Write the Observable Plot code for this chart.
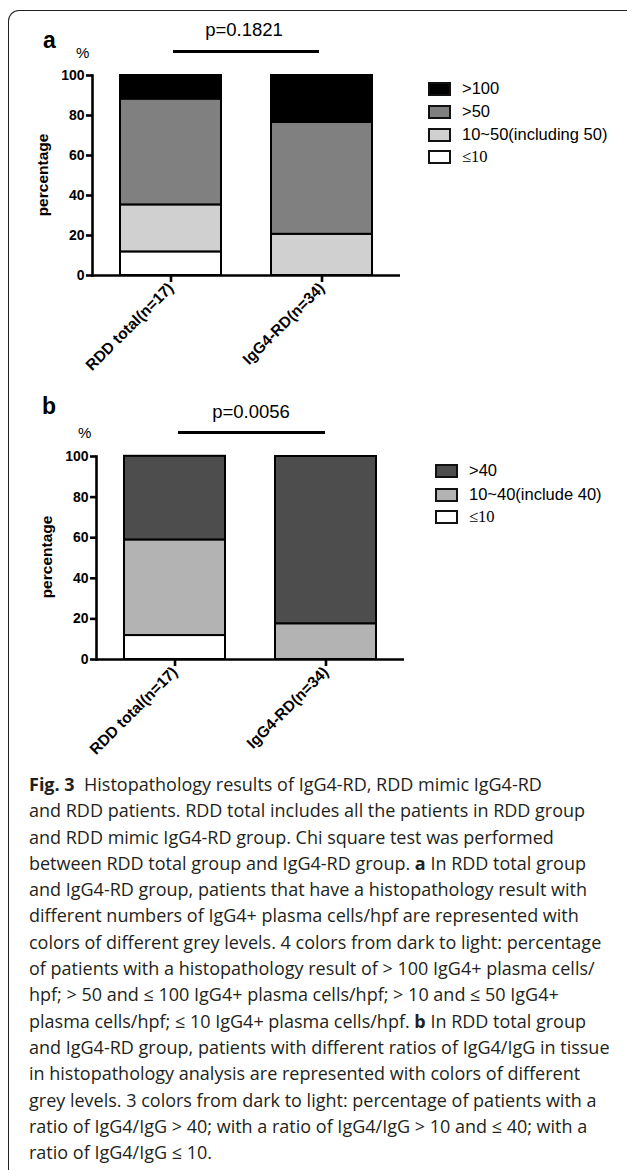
<!DOCTYPE html>
<html>
<head>
<meta charset="utf-8">
<script src="https://cdn.jsdelivr.net/npm/d3@7"></script>
<script src="https://cdn.jsdelivr.net/npm/@observablehq/plot@0.6"></script>
<style>
  html, body { margin: 0; padding: 0; background: #fff; }
  #root { position: relative; width: 627px; height: 1170px; overflow: hidden; background: #fff; font-family: "Liberation Sans", Arial, sans-serif; color: #000; }
  .abs { position: absolute; white-space: nowrap; }
  .frame { position: absolute; left: 8px; top: 10px; width: 640px; height: 1200px; border-top: 1.3px solid #222; border-left: 1.3px solid #222; border-top-left-radius: 11px; }
  .panel { font-weight: bold; font-size: 23px; }
  .pct { font-size: 15px; }
  .pval { font-size: 18.5px; }
  .pline { position: absolute; height: 2.5px; background: #000; }
  .ylab { position: absolute; font-weight: bold; font-size: 15.5px; transform: translate(-50%, -50%) rotate(-90deg); white-space: nowrap; }
  .leg { position: absolute; font-size: 16.5px; white-space: nowrap; }
  .sw { position: absolute; width: 19px; height: 10px; border: 2px solid #111; }
  .caption { position: absolute; left: 29px; top: 771px; font-family: "Open Sans", "Noto Sans", sans-serif; font-size: 18px; line-height: 26.3px; color: #231f20; }
  .caption div { white-space: nowrap; }
  .serif { font-family: "Liberation Serif", "Times New Roman", serif; }
</style>
</head>
<body>
<div id="root">
  <div class="frame"></div>
</div>
<script>
// ---- data ----
const categories = ["RDD total(n=17)", "IgG4-RD(n=34)"];

// panel a: IgG4+ plasma cells/hpf
const levelsA = ["≤10", "10~50(including 50)", ">50", ">100"];
const colorsA = ["#ffffff", "#d0d0d0", "#808080", "#000000"];
const rddA = [11.8, 23.5, 52.9, 11.8];
const igg4A = [0, 20.6, 55.9, 23.5];

// panel b: IgG4/IgG ratio
const levelsB = ["≤10", "10~40(include 40)", ">40"];
const colorsB = ["#ffffff", "#b3b3b3", "#4d4d4d"];
const rddB = [11.8, 47.1, 41.2];
const igg4B = [0, 17.6, 82.4];

const yTicks = [0, 20, 40, 60, 80, 100];
const pA = "p=0.1821";
const pB = "p=0.0056";

function rows(levels, series) {
  const out = [];
  levels.forEach((lev, i) => {
    series.forEach((vals, j) => out.push({cat: categories[j], level: lev, value: vals[i]}));
  });
  return out;
}

function chart(levels, colors, series, marginLeft, plotH) {
  const data = rows(levels, series);
  return Plot.plot({
    width: marginLeft + 308 + 10,
    height: 75 + plotH + 115,
    marginLeft,
    marginRight: 10,
    marginTop: 75,
    marginBottom: 115,
    style: {fontFamily: "Liberation Sans, Arial, sans-serif", fontWeight: "bold", fontSize: "14px", color: "#000", background: "transparent", overflow: "visible"},
    x: {domain: categories, paddingInner: 0.331, paddingOuter: 0.185, label: null},
    y: {domain: [0, 100], label: null},
    color: {domain: levels, range: colors},
    marks: [
      Plot.barY(data, Plot.stackY({order: null}, {x: "cat", y: "value", fill: "level", stroke: "#000", strokeWidth: 2, inset: 0})),
      Plot.ruleY([0], {stroke: "#000", strokeWidth: 2.6}),
      Plot.frame({anchor: "left", stroke: "#000", strokeWidth: 2.6}),
      Plot.axisY({ticks: yTicks, tickSize: 6, tickPadding: 2, strokeWidth: 2.6, label: null, fontSize: 14, fontWeight: "bold"}),
      Plot.axisX({tickSize: 7, tickPadding: 3, tickRotate: -45, strokeWidth: 2.6, label: null, fontSize: 15.5, fontWeight: "bold"})
    ]
  });
}

const root = document.getElementById("root");
function add(html) { root.insertAdjacentHTML("beforeend", html); }

// panel a
const svgA = chart(levelsA, colorsA, [rddA, igg4A], 92, 200);
svgA.style.position = "absolute"; svgA.style.left = "0px"; svgA.style.top = "0px";
root.appendChild(svgA);

// panel b
const svgB = chart(levelsB, colorsB, [rddB, igg4B], 96, 203);
svgB.style.position = "absolute"; svgB.style.left = "0px"; svgB.style.top = "381px";
root.appendChild(svgB);

// annotations panel a
add(`<div class="abs panel" style="left:43px;top:27px;">a</div>`);
add(`<div class="abs pct" style="left:76px;top:44px;">%</div>`);
add(`<div class="abs pval" style="left:244px;top:19px;transform:translateX(-50%);">${pA}</div>`);
add(`<div class="pline" style="left:173px;top:50px;width:146px;"></div>`);
add(`<div class="ylab" style="left:43px;top:175px;">percentage</div>`);

// annotations panel b
add(`<div class="abs panel" style="left:42px;top:393px;">b</div>`);
add(`<div class="abs pct" style="left:78px;top:424px;">%</div>`);
add(`<div class="abs pval" style="left:251px;top:401px;transform:translateX(-50%);">${pB}</div>`);
add(`<div class="pline" style="left:178px;top:431px;width:147px;"></div>`);
add(`<div class="ylab" style="left:47px;top:557px;">percentage</div>`);

// legends (top to bottom = dark to light)
function legend(levels, colors, x, ys) {
  const n = levels.length;
  for (let k = 0; k < n; k++) {
    const i = n - 1 - k;
    const y = ys[k];
    add(`<div class="sw" style="left:${x}px;top:${y - 7}px;background:${colors[i]};"></div>`);
    const isLe = levels[i].startsWith("≤");
    add(`<div class="leg${isLe ? " serif" : ""}" style="left:${x + 34}px;top:${y - 10}px;">${levels[i]}</div>`);
  }
}
legend(levelsA, colorsA, 428, [89, 112, 135, 157]);
legend(levelsB, colorsB, 435, [471, 495, 517]);

// caption
const captionLines = [
  "<b>Fig. 3</b>&nbsp; Histopathology results of IgG4-RD, RDD mimic IgG4-RD",
  "and RDD patients. RDD total includes all the patients in RDD group",
  "and RDD mimic IgG4-RD group. Chi square test was performed",
  "between RDD total group and IgG4-RD group. <b>a</b> In RDD total group",
  "and IgG4-RD group, patients that have a histopathology result with",
  "different numbers of IgG4+ plasma cells/hpf are represented with",
  "colors of different grey levels. 4 colors from dark to light: percentage",
  "of patients with a histopathology result of &gt; 100 IgG4+ plasma cells/",
  "hpf; &gt; 50 and ≤ 100 IgG4+ plasma cells/hpf; &gt; 10 and ≤ 50 IgG4+",
  "plasma cells/hpf; ≤ 10 IgG4+ plasma cells/hpf. <b>b</b> In RDD total group",
  "and IgG4-RD group, patients with different ratios of IgG4/IgG in tissue",
  "in histopathology analysis are represented with colors of different",
  "grey levels. 3 colors from dark to light: percentage of patients with a",
  "ratio of IgG4/IgG &gt; 40; with a ratio of IgG4/IgG &gt; 10 and ≤ 40; with a",
  "ratio of IgG4/IgG ≤ 10."
];
add(`<div class="caption">${captionLines.map(l => `<div>${l}</div>`).join("")}</div>`);
</script>
</body>
</html>
